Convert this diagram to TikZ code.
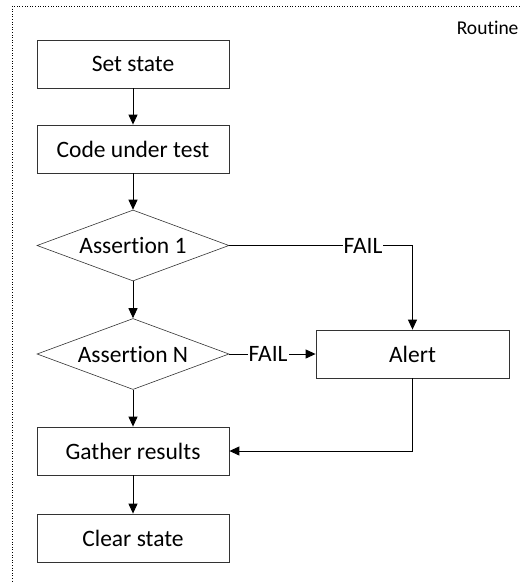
\documentclass[tikz,border=0pt]{standalone}
\usepackage{fontspec}
\setmainfont[Ligatures={NoCommon}]{Carlito}
\usetikzlibrary{shapes.geometric,arrows.meta}
\begin{document}
\begin{tikzpicture}[x=1pt,y=-1pt,
  box/.style={draw=black!80,line width=0.8pt,minimum width=192pt,minimum height=48pt,inner sep=0pt,font=\fontsize{23.5}{26}\selectfont},
  dec/.style={draw=black!80,line width=0.6pt,diamond,minimum width=192pt,minimum height=71pt,inner sep=0pt,font=\fontsize{23.5}{26}\selectfont},
  arr/.style={line width=1pt,-{Triangle[length=10pt,width=9pt]}},
  lbl/.style={font=\fontsize{23.5}{26}\selectfont,inner sep=1pt,fill=white}]
\useasboundingbox (0,0) rectangle (521,582);
\clip (0,0) rectangle (521,582);
\draw[dotted,line width=0.6pt] (12,6) rectangle (540,600);
\node[font=\fontsize{19.5}{22}\selectfont,anchor=east] (rt) at (522,28) {Routine};
\node[box] (set) at (133,64) {Set state};
\node[box] (code) at (133,149) {Code under test};
\node[dec,shape aspect=2.7] (a1) at (133,245.5) {Assertion 1};
\node[dec,shape aspect=2.7] (an) at (133,354) {Assertion N};
\node[box,minimum width=193pt] (alert) at (412.5,354) {Alert};
\node[box] (gather) at (133,451) {Gather results};
\node[box] (clear) at (133,538) {Clear state};
\draw[arr] (set) -- (code);
\draw[arr] (code) -- (a1);
\draw[arr] (a1) -- (an);
\draw[arr] (an) -- (gather);
\draw[arr] (gather) -- (clear);
\coordinate (k1) at (alert.north |- a1.east);
\draw[arr] (a1.east) -- node[lbl,pos=0.73] {FAIL} (k1) -- (alert.north);
\draw[arr] (an.east) -- node[lbl,pos=0.45] {FAIL} (alert.west);
\coordinate (k2) at (alert.south |- gather.east);
\draw[arr] (alert.south) -- (k2) -- (gather.east);
\end{tikzpicture}
\end{document}
